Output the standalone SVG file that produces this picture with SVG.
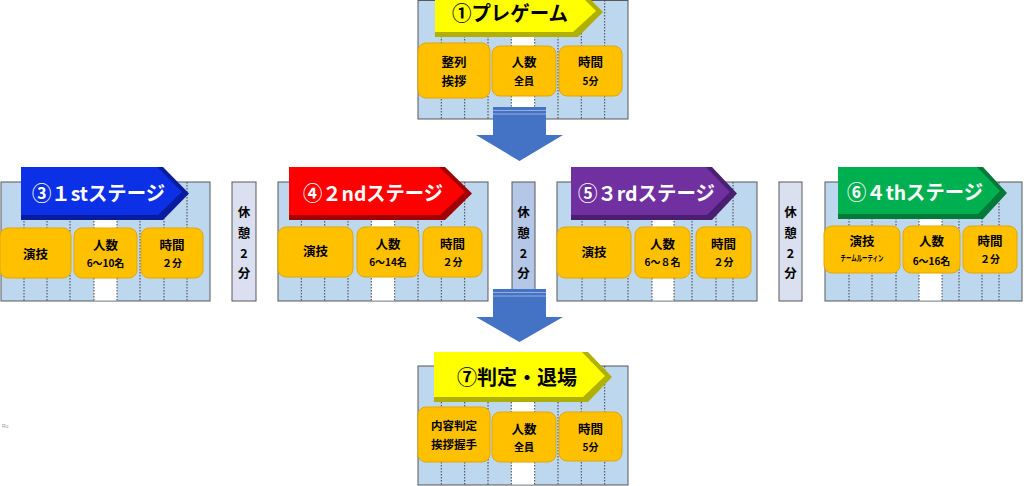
<svg xmlns="http://www.w3.org/2000/svg" width="1024" height="486" viewBox="0 0 1024 486">
<style>
.bg{fill:#fff}
.blk{fill:#BDD7EE;stroke:#595959;stroke-width:1}
.col{fill:#fff}
.dl{stroke:#404040;stroke-width:1;stroke-dasharray:1.5 1.5;fill:none}
.box{fill:#FFC000;stroke:#E3A700;stroke-width:1}
.t{font-family:"Noto Sans CJK JP","Noto Sans CJK SC",sans-serif;font-weight:bold;text-anchor:middle;dominant-baseline:central;fill:#000}
.m{font-size:12.5px}
.s{font-size:10px}
.bt{font-family:"Noto Sans CJK JP","Noto Sans CJK SC",sans-serif;font-weight:bold;font-size:20px;dominant-baseline:central}
.rest{stroke:#595959;stroke-width:1}
.arrow{fill:#4472C4}
.stripe{stroke:#9DB5E0;stroke-width:0.9}
</style>
<rect class="bg" x="0" y="0" width="1024" height="486"/>

<g id="pregame">
<rect class="blk" x="418" y="0.5" width="210" height="118.5"/>
<rect class="col" x="511.3" y="1" width="23.4" height="117.5"/>
<path class="dl" d="M441.3,0V119M464.7,0V119M488,0V119M511.3,0V119M534.7,0V119M558,0V119M581.3,0V119M604.7,0V119"/>
<path fill="#B0B000" d="M435,-13H578L603,12L578,37H435Z"/>
<path fill="#FFFF00" d="M435,-13H572L596,11L573,32H435Z"/>
<text class="bt" x="452" y="12.5" fill="#000" font-size="19" textLength="116" lengthAdjust="spacingAndGlyphs">①プレゲーム</text>
<rect class="box" x="418" y="43" width="72" height="55" rx="8"/>
<rect class="box" x="492" y="46" width="64" height="50" rx="8"/>
<rect class="box" x="559" y="46" width="63" height="50" rx="8"/>
<text class="t m" x="454" y="61">整列</text>
<text class="t m" x="454" y="80">挨拶</text>
<text class="t m" x="524" y="61">人数</text>
<text class="t s" x="524" y="80">全員</text>
<text class="t m" x="590.5" y="61">時間</text>
<text class="t s" x="590.5" y="80">5分</text>
</g>

<g id="stage1">
<rect class="blk" x="1" y="182" width="209" height="119"/>
<rect class="col" x="94" y="182.5" width="23" height="118"/>
<path class="dl" d="M24,182V301M47,182V301M70,182V301M94,182V301M117,182V301M140,182V301M164,182V301M187,182V301"/>
<path fill="#0A1C9E" d="M21,167H163L189,193.5L163,220H21Z"/>
<path fill="#0B30E6" d="M21,167H157L182,192L158,215H21Z"/>
<text class="bt" x="32" y="192" fill="#fff" textLength="133" lengthAdjust="spacingAndGlyphs">③１stステージ</text>
<rect class="box" x="0" y="228" width="71" height="50" rx="8"/>
<rect class="box" x="74" y="228" width="63" height="50" rx="8"/>
<rect class="box" x="141" y="228" width="62" height="50" rx="8"/>
<text class="t m" x="35.5" y="253">演技</text>
<text class="t m" x="105.5" y="244">人数</text>
<text class="t s" x="105.5" y="262">6～10名</text>
<text class="t m" x="172" y="244">時間</text>
<text class="t s" x="172" y="262">２分</text>
</g>

<g id="rest1">
<rect class="rest" x="232" y="182" width="24" height="119" fill="#DAE0EF"/>
<text class="t m" x="244" y="211">休</text>
<text class="t m" x="244" y="232">憩</text>
<text class="t m" x="244" y="252">2</text>
<text class="t m" x="244" y="272">分</text>
</g>

<g id="stage2">
<rect class="blk" x="278" y="182" width="210" height="119"/>
<rect class="col" x="371.3" y="182.5" width="23.4" height="118"/>
<path class="dl" d="M301.3,182V301M324.7,182V301M348,182V301M371.3,182V301M394.7,182V301M418,182V301M441.3,182V301M464.7,182V301"/>
<path fill="#A00000" d="M289,167H445L472,193.5L445,220H289Z"/>
<path fill="#FF0000" d="M289,167H439L465,192L440,215H289Z"/>
<text class="bt" x="303" y="192" fill="#fff" textLength="140" lengthAdjust="spacingAndGlyphs">④２ndステージ</text>
<rect class="box" x="278" y="227" width="75" height="50" rx="8"/>
<rect class="box" x="357" y="227" width="62" height="50" rx="8"/>
<rect class="box" x="423" y="227" width="59" height="50" rx="8"/>
<text class="t m" x="315.5" y="250">演技</text>
<text class="t m" x="388" y="243">人数</text>
<text class="t s" x="388" y="261">6～14名</text>
<text class="t m" x="452.5" y="243">時間</text>
<text class="t s" x="452.5" y="261">２分</text>
</g>

<g id="rest2">
<rect class="rest" x="512" y="182" width="23" height="119" fill="#B4C7E7"/>
<text class="t m" x="523.5" y="211">休</text>
<text class="t m" x="523.5" y="232">憩</text>
<text class="t m" x="523.5" y="252">2</text>
<text class="t m" x="523.5" y="272">分</text>
</g>

<g id="stage3">
<rect class="blk" x="557" y="182" width="200" height="119"/>
<rect class="col" x="652" y="182.5" width="22" height="118"/>
<path class="dl" d="M582,182V301M605,182V301M628,182V301M652,182V301M674,182V301M692,182V301M716,182V301M733,182V301"/>
<path fill="#4A1E70" d="M571,167H712L737,193.5L712,220H571Z"/>
<path fill="#7030A0" d="M571,167H706L730,192L707,215H571Z"/>
<text class="bt" x="578" y="192" fill="#fff" textLength="137" lengthAdjust="spacingAndGlyphs">⑤３rdステージ</text>
<rect class="box" x="557" y="227" width="74" height="51" rx="8"/>
<rect class="box" x="635" y="227" width="55" height="51" rx="8"/>
<rect class="box" x="696" y="227" width="55" height="51" rx="8"/>
<text class="t m" x="594" y="251">演技</text>
<text class="t m" x="662.5" y="243">人数</text>
<text class="t s" x="662.5" y="261">6～８名</text>
<text class="t m" x="723.5" y="243">時間</text>
<text class="t s" x="723.5" y="261">２分</text>
</g>

<g id="rest3">
<rect class="rest" x="779" y="182" width="23" height="119" fill="#DAE0EF"/>
<text class="t m" x="790.5" y="211">休</text>
<text class="t m" x="790.5" y="232">憩</text>
<text class="t m" x="790.5" y="252">2</text>
<text class="t m" x="790.5" y="272">分</text>
</g>

<g id="stage4">
<rect class="blk" x="825" y="182" width="197" height="119"/>
<rect class="col" x="919" y="182.5" width="23" height="118"/>
<path class="dl" d="M849,182V301M872,182V301M896,182V301M919,182V301M942,182V301M959,182V301M982,182V301M999,182V301"/>
<path fill="#007A38" d="M838,167H983L1007,193L983,219H838Z"/>
<path fill="#00B050" d="M838,167H977L1000,191L978,214H838Z"/>
<text class="bt" x="847" y="191" fill="#fff" textLength="136" lengthAdjust="spacingAndGlyphs">⑥４thステージ</text>
<rect class="box" x="824" y="226" width="76" height="47" rx="8"/>
<rect class="box" x="903" y="226" width="57" height="47" rx="8"/>
<rect class="box" x="963" y="226" width="54" height="47" rx="8"/>
<text class="t m" x="862" y="240">演技</text>
<text class="t" x="862" y="257" font-size="8.5" textLength="43" lengthAdjust="spacingAndGlyphs">チームルーティン</text>
<text class="t m" x="931.5" y="240">人数</text>
<text class="t s" x="931.5" y="260">6～16名</text>
<text class="t m" x="990" y="240">時間</text>
<text class="t s" x="990" y="258">２分</text>
</g>

<g id="judge">
<rect class="blk" x="418" y="366" width="210" height="119"/>
<rect class="col" x="511.3" y="366.5" width="23.4" height="118"/>
<path class="dl" d="M441.3,366V485M464.7,366V485M488,366V485M511.3,366V485M534.7,366V485M558,366V485M581.3,366V485M604.7,366V485"/>
<path fill="#B0B000" d="M434,352H588L612,377L588,402H434Z"/>
<path fill="#FFFF00" d="M434,352H582L605,376L583,397H434Z"/>
<text class="bt" x="457" y="376" fill="#000" textLength="120" lengthAdjust="spacingAndGlyphs">⑦判定・退場</text>
<rect class="box" x="418" y="407" width="72" height="55" rx="8"/>
<rect class="box" x="492" y="412" width="64" height="50" rx="8"/>
<rect class="box" x="559" y="412" width="63" height="49" rx="8"/>
<text class="t" x="454" y="425" font-size="11.5">内容判定</text>
<text class="t" x="454" y="444" font-size="11.5">挨拶握手</text>
<text class="t m" x="524" y="428">人数</text>
<text class="t s" x="524" y="446">全員</text>
<text class="t m" x="590.5" y="428">時間</text>
<text class="t s" x="590.5" y="446">5分</text>
</g>

<g id="connectors">
<path class="arrow" d="M493,107H546V135H563L519.5,161L476,135H493Z"/>
<path class="stripe" d="M493,110.5H546M493,114H546"/>
<path class="arrow" d="M493,289H546V317H563L519.5,342L476,317H493Z"/>
<path class="stripe" d="M493,292.5H546M493,296H546"/>
</g>

<text x="2" y="428" font-family="Liberation Sans, sans-serif" font-size="5" fill="#999">Ru</text>
</svg>
